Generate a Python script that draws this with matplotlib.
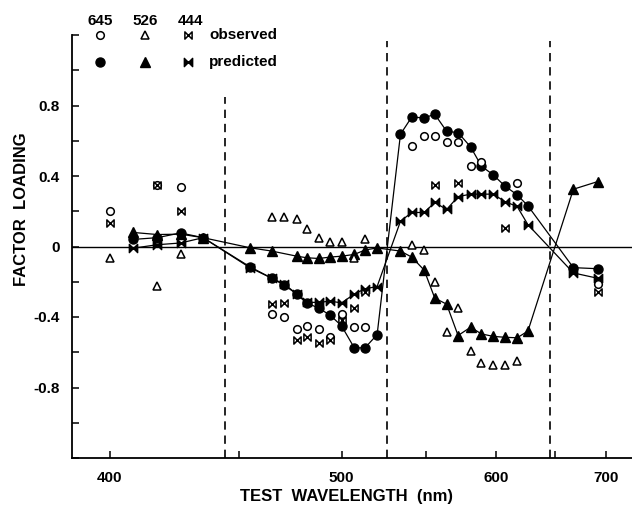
import matplotlib
matplotlib.use("Agg")
import numpy as np
import matplotlib.pyplot as plt
from matplotlib.path import Path

# predicted factor loadings (filled markers, joined by lines)
wl_pred = [408, 417, 426, 435, 455, 465, 471, 477, 482, 488, 494, 500, 507, 513, 520,
           534, 541, 549, 556, 564, 572, 581, 589, 598, 607, 617, 626, 667, 691]
pred_645 = [0.04, 0.05, 0.077, 0.05, -0.115, -0.18, -0.22, -0.27, -0.32, -0.35, -0.39, -0.45,
            -0.575, -0.575, -0.50, 0.637, 0.734, 0.73, 0.75, 0.654, 0.646, 0.565, 0.456,
            0.406, 0.344, 0.293, 0.231, -0.12, -0.126]
pred_444 = [-0.01, 0.01, 0.02, 0.05, -0.12, -0.18, -0.214, -0.27, -0.317, -0.317, -0.31, -0.32,
            -0.27, -0.24, -0.227, 0.143, 0.193, 0.193, 0.25, 0.21, 0.283, 0.297, 0.297,
            0.297, 0.255, 0.227, 0.124, -0.15, -0.18]
wl_pred_526 = [408, 417, 426, 435, 455, 465, 477, 482, 488, 494, 500, 507, 513, 520,
               534, 541, 549, 556, 564, 572, 581, 589, 598, 607, 617, 626, 667, 691]
pred_526 = [0.08, 0.068, 0.07, 0.05, -0.007, -0.026, -0.055, -0.064, -0.068, -0.06, -0.055,
            -0.045, -0.02, -0.008, -0.026, -0.06, -0.134, -0.293, -0.327, -0.505, -0.458,
            -0.496, -0.51, -0.515, -0.518, -0.48, 0.325, 0.368]

# observed factor loadings (open markers)
wl_obs_645 = [400, 417, 426, 465, 471, 477, 482, 488, 494, 500, 507, 513,
              541, 549, 556, 564, 572, 581, 589, 617, 691]
obs_645 = [0.20, 0.35, 0.34, -0.383, -0.40, -0.47, -0.45, -0.47, -0.515, -0.383, -0.458, -0.458,
           0.569, 0.625, 0.625, 0.593, 0.593, 0.456, 0.48, 0.362, -0.214]
wl_obs_526 = [400, 417, 426, 465, 471, 477, 482, 488, 494, 500, 507, 513,
              541, 549, 556, 564, 572, 581, 589, 598, 607, 617]
obs_526 = [-0.064, -0.224, -0.045, 0.167, 0.167, 0.156, 0.10, 0.05, 0.025, 0.025, -0.065, 0.043,
           0.006, -0.02, -0.20, -0.486, -0.35, -0.595, -0.66, -0.67, -0.67, -0.65]
wl_obs_444 = [400, 417, 426, 465, 471, 477, 482, 488, 494, 500, 507, 513, 556, 572, 607, 691]
obs_444 = [0.133, 0.35, 0.20, -0.327, -0.32, -0.533, -0.515, -0.55, -0.533, -0.415, -0.35, -0.26,
           0.35, 0.362, 0.105, -0.257]

# boundaries drawn as dashed lines
boundaries = [444, 526, 645]

xticks = [400, 500, 600, 700]
xticks_minor = [450, 550, 650]
yticks = np.round(np.arange(-1.2, 1.21, 0.2), 1)
ylabelled = {-0.8: '-0.8', -0.4: '-0.4', 0.0: '0', 0.4: '0.4', 0.8: '0.8'}

plt.rcParams['font.family'] = ['Liberation Sans', 'DejaVu Sans']
plt.rcParams['font.weight'] = 'bold'

bowtie = Path([(-1, -1), (1, 1), (1, -1), (-1, 1), (-1, -1)],
              [Path.MOVETO, Path.LINETO, Path.LINETO, Path.LINETO, Path.CLOSEPOLY])

fig = plt.figure(figsize=(6.32, 5.18), dpi=100)
ax = fig.add_axes([72 / 632, 60 / 518, 1 - 72 / 632, 423 / 518])

# axis is linear in 1/wavelength
ax.set_xscale('function', functions=(lambda w: -1.0 / np.asarray(w), lambda v: -1.0 / np.asarray(v)))
ax.set_xlim(387.3, 728.5)
ax.set_ylim(-1.2, 1.2)

ax.axhline(0, color='black', lw=1.0, zorder=1)
ax.axvline(boundaries[0], ymin=0, ymax=0.854, color='black', lw=1.2, ls=(0, (5, 3.5)))
for b in boundaries[1:]:
    ax.axvline(b, ymin=0, ymax=0.985, color='black', lw=1.2, ls=(0, (5, 3.5)))

lw = 0.9
ax.plot(wl_pred, pred_645, '-', color='black', lw=lw, marker='o', ms=6.5, mfc='black', mec='black', zorder=3)
ax.plot(wl_pred_526, pred_526, '-', color='black', lw=lw, marker='^', ms=6.5, mfc='black', mec='black', zorder=3)
ax.plot(wl_pred, pred_444, '-', color='black', lw=lw, marker=bowtie, ms=6, mfc='black', mec='black', zorder=3)

ax.plot(wl_obs_645, obs_645, 'o', ms=5.5, mfc='white', mec='black', mew=1.1, zorder=4)
ax.plot(wl_obs_526, obs_526, '^', ms=6, mfc='white', mec='black', mew=1.1, zorder=4)
ax.plot(wl_obs_444, obs_444, ls='none', marker=bowtie, ms=5.2, mfc='white', mec='black', mew=1.1, zorder=4)

ax.spines['top'].set_visible(False)
ax.spines['right'].set_visible(False)
ax.spines['left'].set_linewidth(1.3)
ax.spines['bottom'].set_linewidth(1.3)

ax.set_xticks(xticks)
ax.set_xticklabels([str(t) for t in xticks])
ax.set_xticks(xticks_minor, minor=True)
ax.set_yticks(yticks)
ax.set_yticklabels([ylabelled.get(float(v), '') for v in yticks])
ax.tick_params(axis='both', which='both', direction='in', length=5, width=1.1, labelsize=11)
ax.tick_params(axis='y', pad=9)
ax.tick_params(axis='x', pad=9)

fig.text(346 / 632, 1 - 497 / 518, 'TEST  WAVELENGTH  (nm)', ha='center', va='center', fontsize=12)
fig.text(22 / 632, 1 - 209 / 518, 'FACTOR  LOADING', ha='center', va='center', rotation=90, fontsize=12)

# key at the top
for x, name in zip([100, 145, 190], ['645', '526', '444']):
    fig.text(x / 632, 1 - 21 / 518, name, ha='center', va='center', fontsize=11)
key = [('o', 5.5, 6.5), ('^', 6, 6.5), (bowtie, 5.2, 6)]
for x, (m, ms_o, ms_p) in zip([100, 145, 188], key):
    ax.plot([x / 632], [1 - 35 / 518], ls='none', marker=m, ms=ms_o, mfc='white', mec='black', mew=1.1,
            transform=fig.transFigure, clip_on=False)
    ax.plot([x / 632], [1 - 62 / 518], ls='none', marker=m, ms=ms_p, mfc='black', mec='black',
            transform=fig.transFigure, clip_on=False)
fig.text(209 / 632, 1 - 35 / 518, 'observed', ha='left', va='center', fontsize=11)
fig.text(209 / 632, 1 - 62 / 518, 'predicted', ha='left', va='center', fontsize=11)

fig.savefig('out.png', dpi=100)
